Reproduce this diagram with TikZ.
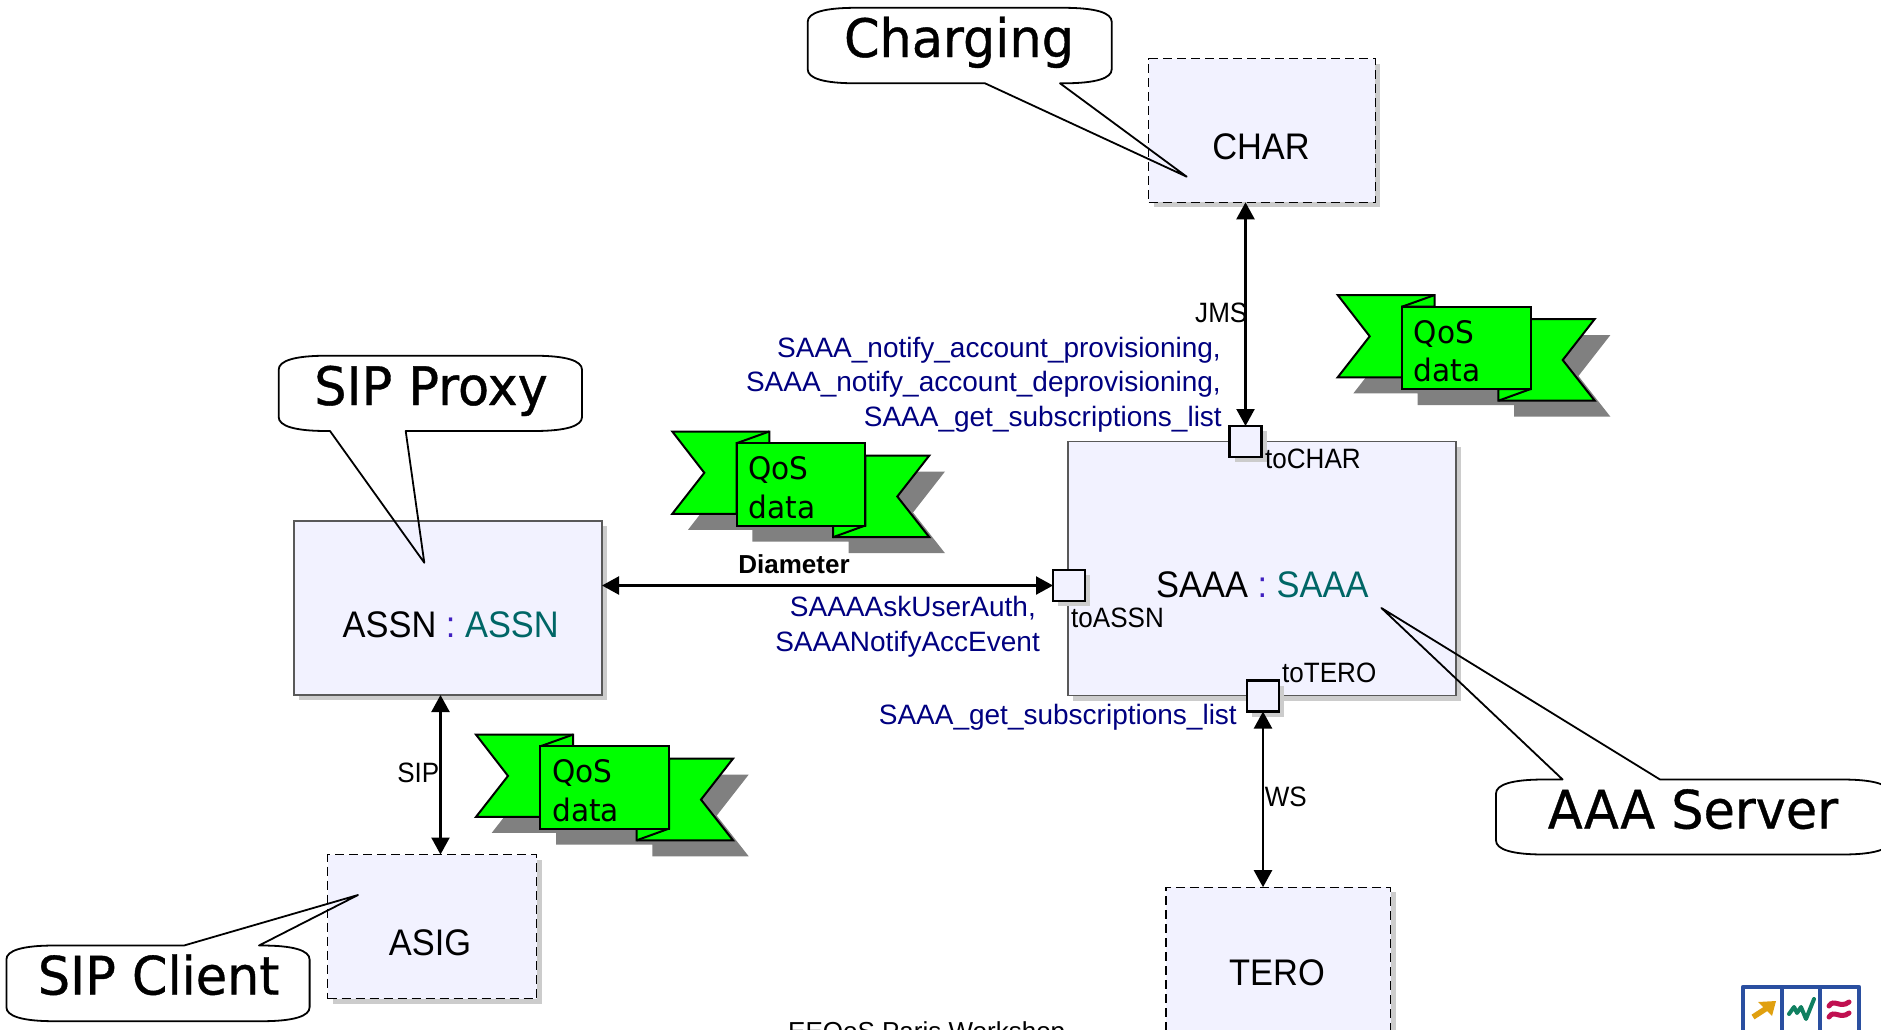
\documentclass[tikz,border=0pt]{standalone}
\usepackage{fontspec}
\setmainfont{Liberation Sans}
\newfontfamily\callf[FakeStretch=0.96,FakeBold=0.7]{DejaVu Sans}
\newfontfamily\flagf[FakeStretch=0.955]{DejaVu Sans}
\newfontfamily\tightf[FakeStretch=0.93]{Liberation Sans}
\usetikzlibrary{arrows.meta,shadows}
\definecolor{boxfill}{HTML}{F2F2FF}
\definecolor{boxshadow}{HTML}{CCCCCC}
\definecolor{opnavy}{HTML}{000080}
\definecolor{typeteal}{HTML}{006666}
\definecolor{colonblue}{HTML}{4020C0}
\definecolor{flaggreen}{HTML}{00FF00}
\definecolor{flagshadow}{HTML}{808080}
\definecolor{logoblue}{HTML}{2A4FA0}
\definecolor{logoorange}{HTML}{E0A010}
\definecolor{logogreen}{HTML}{108060}
\definecolor{logored}{HTML}{C01050}
\tikzset{
  x=1pt,y=-1pt,
  basebox/.style={rectangle,fill=boxfill,inner sep=0pt,outer sep=0pt,
    drop shadow={shadow xshift=5pt,shadow yshift=-5pt,fill=boxshadow,opacity=1}},
  solidbox/.style={basebox,draw=black!65,line width=1.4pt},
  dashbox/.style={basebox,draw=black,line width=1.2pt,dash pattern=on 9pt off 5pt},
  portbox/.style={basebox,draw=black,line width=2.2pt,minimum width=32pt,minimum height=31pt},
  conn/.style={line width=2.3pt,{Triangle[length=17pt,width=18pt]}-{Triangle[length=17pt,width=18pt]}},
  boxtext/.style={anchor=base,inner sep=0pt,font=\tightf\fontsize{37}{37}\selectfont},
  op/.style={anchor=base east,inner sep=0pt,text=opnavy,font=\fontsize{28}{28}\selectfont},
  portlabel/.style={anchor=base west,inner sep=0pt,font=\tightf\fontsize{28}{28}\selectfont},
  bubble/.style={draw=black,line width=1.8pt,line join=round},
  bubbletext/.style={anchor=base,inner sep=0pt,font=\callf\fontsize{53}{53}\selectfont},
  flagpart/.style={draw=black,line width=2pt,fill=flaggreen,line join=miter},
  flagtext/.style={anchor=base west,inner sep=0pt,font=\flagf\fontsize{31}{31}\selectfont},
}
% bubble with the tail on its lower edge: L T R B tailL tailR tipx tipy
\newcommand\bubbledown[8]{%
  \draw[bubble] (#1+48,#2) -- (#3-48,#2) .. controls (#3-16,#2) and (#3,#2+5) .. (#3,#2+14)
    -- (#3,#4-14) .. controls (#3,#4-5) and (#3-16,#4) .. (#3-48,#4)
    -- (#6,#4) -- (#7,#8) -- (#5,#4)
    -- (#1+48,#4) .. controls (#1+16,#4) and (#1,#4-5) .. (#1,#4-14)
    -- (#1,#2+14) .. controls (#1,#2+5) and (#1+16,#2) .. (#1+48,#2) -- cycle;}
% bubble with the tail on its upper edge
\newcommand\bubbleup[8]{%
  \draw[bubble] (#1+48,#2) -- (#5,#2) -- (#7,#8) -- (#6,#2)
    -- (#3-48,#2) .. controls (#3-16,#2) and (#3,#2+5) .. (#3,#2+14)
    -- (#3,#4-14) .. controls (#3,#4-5) and (#3-16,#4) .. (#3-48,#4)
    -- (#1+48,#4) .. controls (#1+16,#4) and (#1,#4-5) .. (#1,#4-14)
    -- (#1,#2+14) .. controls (#1,#2+5) and (#1+16,#2) .. (#1+48,#2) -- cycle;}
% the QoS data ribbon; #1 = name prefix, #2 = top left tip
\newcommand\qosflag[2]{%
  \begin{scope}[shift={#2}]
    \begin{scope}[shift={(15.7,16)}]
      \fill[flagshadow] (0,0) -- (97,0) -- (97,12) -- (193,12) -- (193,24) -- (257,24) -- (225,65) -- (257,105.7)
        -- (160.7,105.7) -- (160.7,94) -- (64.3,94) -- (64.3,82.3) -- (0,82.3) -- (32,41.3) -- cycle;
    \end{scope}
    \draw[flagpart] (64.3,82.3) -- (0,82.3) -- (32,41.3) -- (0,0) -- (97,0) -- (97,11.7) -- (64.3,11.7) -- cycle;
    \draw[flagpart] (193,24) -- (257,24) -- (225,65) -- (257,105.7) -- (160.7,105.7) -- (160.7,94) -- (193,94) -- cycle;
    \draw[flagpart] (64.3,11.7) -- (97,0);
    \draw[flagpart] (160.7,105.7) -- (193,94);
    \draw[flagpart] (64.3,11.7) rectangle (193,94);
    \node[flagtext] (#1q) at (76,48.3) {QoS};
    \node[flagtext] (#1d) at (76,86.7) {data};
  \end{scope}}
\begin{document}
\begin{tikzpicture}
\useasboundingbox (0,0) rectangle (1881,1029);
\clip (0,0) rectangle (1881,1029);

% boxes
\node[dashbox,minimum width=226.6pt,minimum height=143.6pt] (char) at (1262,130.5) {};
\node[solidbox,minimum width=308pt,minimum height=174pt] (assn) at (448,608) {};
\node[dashbox,minimum width=209pt,minimum height=144pt] (asig) at (432,926.5) {};
\node[solidbox,minimum width=388pt,minimum height=254pt] (saaa) at (1262,568.5) {};
\node[dashbox,minimum width=224.6pt,minimum height=200pt] (tero) at (1278.3,987.2) {};

% box texts
\node[boxtext] (chart) at (1261,159) {CHAR};
\node[boxtext,anchor=base west] (assnt) at (342.5,637) {ASSN~\textcolor{colonblue}{:}~\textcolor{typeteal}{ASSN}};
\node[boxtext] (asigt) at (430,955) {ASIG};
\node[boxtext,anchor=base west] (saaat) at (1156,597.5) {SAAA~\textcolor{colonblue}{:}~\textcolor{typeteal}{SAAA}};
\node[boxtext] (terot) at (1277,985) {TERO};

% ports
\node[portbox] (tochar) at (1245.5,441.5) {};
\node[portbox] (toassn) at (1069,585.5) {};
\node[portbox] (totero) at (1263,696) {};

% connectors
\coordinate (sipx) at (440.5,700);
\draw[conn] (tochar.north) -- (tochar.north |- char.south);
\draw[conn] (toassn.west) -- (toassn.west -| assn.east);
\draw[conn] (totero.south) -- (totero.south |- tero.north);
\draw[conn] (sipx |- assn.south) -- (sipx |- asig.north);

% connector and port labels
\node[portlabel,anchor=base east] (jms) at (1247.5,322.5) {JMS};
\node[portlabel,anchor=base east] (sip) at (439.5,782.5) {SIP};
\node[portlabel] (ws) at (1264.6,806.5) {WS};
\node[portlabel] (tocharl) at (1265,468) {toCHAR};
\node[portlabel] (toassnl) at (1071,627.5) {toASSN};
\node[portlabel] (toterol) at (1282,682) {toTERO};
\node[anchor=base,inner sep=0pt,font=\bfseries\fontsize{26}{26}\selectfont] (diam) at (794,573) {Diameter};

% operation labels
\node[op] (op1) at (1221,357) {SAAA\_notify\_account\_provisioning,};
\node[op] (op2) at (1221,391.5) {SAAA\_notify\_account\_deprovisioning,};
\node[op] (op3) at (1222,426.5) {SAAA\_get\_subscriptions\_list};
\node[op] (op4) at (1036,616) {SAAAAskUserAuth,};
\node[op] (op5) at (1040,651) {SAAANotifyAccEvent};
\node[op] (op6) at (1237,724.5) {SAAA\_get\_subscriptions\_list};

% ribbons
\qosflag{fa}{(672.3,431.5)}
\qosflag{fb}{(1337.7,295)}
\qosflag{fc}{(476,734.6)}

% call-outs
\bubbledown{807.7}{7.8}{1111.7}{83.3}{985}{1060}{1186.7}{176.7}
\node[bubbletext] (lcharging) at (959,57) {Charging};
\bubbledown{278.7}{355.7}{582}{431}{330}{405.7}{424.3}{562.7}
\node[bubbletext] (lproxy) at (431,405) {SIP Proxy};
\bubbleup{6.4}{945.5}{309.6}{1021.2}{184}{259}{358}{895}
\node[bubbletext] (lclient) at (158.6,994.5) {SIP Client};
\bubbleup{1496}{779.5}{1890}{854.5}{1562.6}{1660}{1381.4}{608}
\node[bubbletext] (lserver) at (1693,828.5) {AAA Server};

% footer
\node[anchor=base west,inner sep=0pt,font=\fontsize{26}{26}\selectfont] (footer) at (788,1040.5) {EEQoS Paris Workshop};

% logo
\fill[white] (1744,988) rectangle (1860,1040);
\draw[logoblue,line width=4.5pt,line join=round] (1743,987) rectangle (1782,1040);
\draw[logoblue,line width=4.5pt,line join=round] (1782,987) rectangle (1820,1040);
\draw[logoblue,line width=4.5pt,line join=round] (1820,987) rectangle (1859,1040);
\draw[logoorange,line width=5.5pt] (1753,1017) -- (1770,1006);
\fill[logoorange] (1776,1001) -- (1758,1002) -- (1772,1016) -- cycle;
\draw[logogreen,line width=4pt,line join=round,line cap=round] (1789,1014) -- (1794,1007) -- (1797,1013) -- (1801,1007) -- (1806,1019) -- (1814,999);
\draw[logored,line width=5pt,line cap=round] (1829,1006) .. controls (1834,998) and (1840,1009) .. (1849,1002);
\draw[logored,line width=5pt,line cap=round] (1829,1017) .. controls (1834,1009) and (1840,1020) .. (1849,1013);
\end{tikzpicture}
\end{document}
